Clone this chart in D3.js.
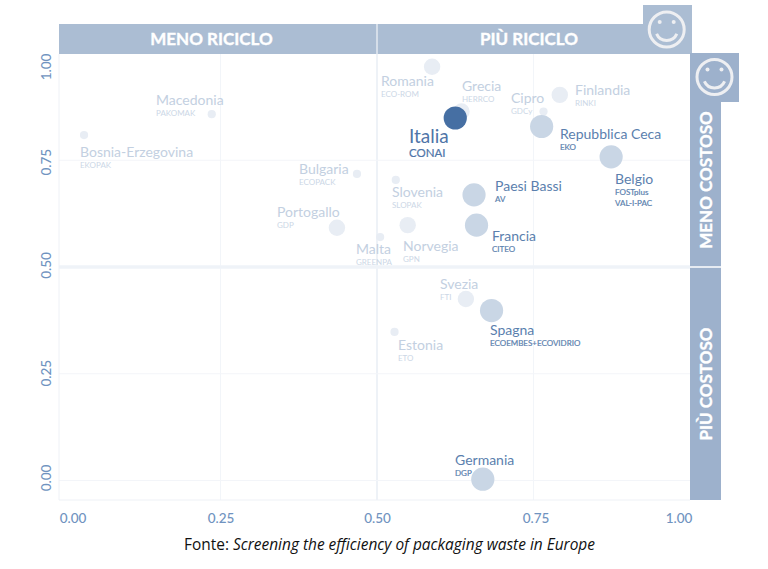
<!DOCTYPE html>
<html>
<head>
    <meta charset="utf-8">
    <title>Riciclo e costo</title>
    <script src="https://cdn.jsdelivr.net/npm/d3@7"></script>
    <style type="text/css">
        html, body { margin: 0; padding: 0; background: #fff; }
        svg { display: block; }
        text { font-family: Lato, "Noto Sans", sans-serif; }
    </style>
</head>
<body>
<script type="text/javascript">
    // dati
    var paesi = ["Bosnia-Erzegovina", "Macedonia", "Bulgaria", "Portogallo", "Malta", "Romania", "Grecia",
        "Cipro", "Finlandia", "Slovenia", "Norvegia", "Svezia", "Estonia",
        "Repubblica Ceca", "Belgio", "Paesi Bassi", "Francia", "Spagna", "Germania", "Italia"];
    var consorzi = ["EKOPAK", "PAKOMAK", "ECOPACK", "GDP", "GREENPA", "ECO-ROM", "HERRCO",
        "GDCy", "RINKI", "SLOPAK", "GPN", "FTI", "ETO",
        "EKO", "FOSTplus\nVAL-I-PAC", "AV", "CITEO", "ECOEMBES+ECOVIDRIO", "DGP", "CONAI"];
    var riciclo = [0.032, 0.236, 0.468, 0.436, 0.505, 0.588, 0.635,
        0.766, 0.792, 0.530, 0.549, 0.642, 0.528,
        0.763, 0.874, 0.655, 0.659, 0.683, 0.669, 0.625];
    var costo = [0.809, 0.858, 0.718, 0.592, 0.570, 0.969, 0.864,
        0.864, 0.903, 0.704, 0.598, 0.425, 0.348,
        0.829, 0.758, 0.669, 0.598, 0.398, 0.003, 0.849];
    var taglia = [1, 1, 1, 4, 1, 4, 4, 1, 4, 1, 4, 4, 1, 8, 8, 8, 8, 8, 8, 8];
    var gruppo = ["altri", "altri", "altri", "altri", "altri", "altri", "altri",
        "altri", "altri", "altri", "altri", "altri", "altri",
        "evidenza", "evidenza", "evidenza", "evidenza", "evidenza", "evidenza", "italia"];
    var tickValori = [0, 0.25, 0.5, 0.75, 1];

    // posizione delle etichette in pixel: [x, linea base]
    var etichette = [[80, 157], [156, 105], [299, 174], [277, 217], [356, 254], [381, 86], [462, 91],
        [511, 103], [575, 95], [392, 197], [403, 251], [440, 289], [398, 350],
        [560, 139], [615, 184], [495, 191], [492, 241], [490, 335], [455, 465], [409, 143]];

    var colori = {
        altri: {bolla: "#e8edf4", nome: "#c3d0e1", sigla: "#ccd7e6"},
        evidenza: {bolla: "#c9d6e5", nome: "#5b7fae", sigla: "#5b7fae"},
        italia: {bolla: "#466fa3", nome: "#4f75a8", sigla: "#4f75a8"}
    };

    var width = 768, height = 569;
    var svg = d3.select("body").append("svg").attr("width", width).attr("height", height);

    var x = d3.scaleLinear().domain([0, 1]).range([64, 690]);
    var y = d3.scaleLinear().domain([0, 1]).range([480.5, 53.5]);
    var r = d3.scaleSqrt().domain([0, 8]).range([0, 11.6]);

    // griglia
    var griglia = svg.append("g");
    griglia.selectAll(".gv").data(tickValori.slice(1, 4)).enter().append("line")
        .attr("x1", function(d) { return x(d); }).attr("x2", function(d) { return x(d); })
        .attr("y1", 54).attr("y2", 500)
        .attr("stroke", function(d) { return d === 0.5 ? "#eef2f7" : "#f2f5f9"; })
        .attr("stroke-width", function(d) { return d === 0.5 ? 2 : 1; });
    griglia.selectAll(".gh").data(tickValori.slice(0, 4)).enter().append("line")
        .attr("x1", 59).attr("x2", 690)
        .attr("y1", function(d) { return y(d); }).attr("y2", function(d) { return y(d); })
        .attr("stroke", function(d) { return d === 0.5 ? "#eff3f8" : "#f3f5f9"; })
        .attr("stroke-width", function(d) { return d === 0.5 ? 3.5 : 1; });
    griglia.append("line").attr("x1", 59).attr("x2", 59).attr("y1", 54).attr("y2", 500)
        .attr("stroke", "#eef1f6");
    griglia.append("line").attr("x1", 59).attr("x2", 690).attr("y1", 500).attr("y2", 500)
        .attr("stroke", "#eef1f6");

    // assi
    var fmt = d3.format(".2f");
    var assex = svg.append("g").attr("transform", "translate(0,500)")
        .call(d3.axisBottom(x).tickValues(tickValori).tickFormat(fmt).tickSize(0));
    var assey = svg.append("g").attr("transform", "translate(59,0)")
        .call(d3.axisLeft(y).tickValues(tickValori).tickFormat(fmt).tickSize(0));
    assex.select(".domain").remove();
    assey.select(".domain").remove();
    assex.selectAll("text")
        .attr("font-size", 13.5).attr("font-weight", 500).attr("fill", "#7093c0")
        .attr("dy", 0).attr("y", 22.5)
        .attr("dx", function(d) { return d === 0 ? 8.5 : d === 1 ? -11.5 : d === 0.75 ? 2 : 0; });
    assey.selectAll("text")
        .attr("font-size", 13.5).attr("font-weight", 500).attr("fill", "#7093c0")
        .attr("text-anchor", "middle").attr("dy", 0).attr("x", 0).attr("y", 0)
        .attr("transform", function(d) {
            var nudge = d === 1 ? 13 : d === 0 ? -3 : d === 0.5 ? -2 : d === 0.75 ? 1.5 : -1;
            return "translate(-8," + nudge + ") rotate(-90)";
        });

    // fasce
    var fasce = svg.append("g");
    fasce.append("rect").attr("x", 59).attr("y", 24).attr("width", 633).attr("height", 30).attr("fill", "#abbdd3");
    fasce.append("rect").attr("x", 643).attr("y", 5).attr("width", 49).attr("height", 49).attr("fill", "#abbdd3");
    fasce.append("rect").attr("x", 690).attr("y", 53).attr("width", 31).attr("height", 447).attr("fill", "#9db1cc");
    fasce.append("rect").attr("x", 690).attr("y", 53).attr("width", 49).attr("height", 49).attr("fill", "#9db1cc");
    fasce.append("line").attr("x1", x(0.5)).attr("x2", x(0.5)).attr("y1", 24).attr("y2", 54)
        .attr("stroke", "#fff").attr("stroke-width", 1);
    fasce.append("line").attr("x1", 690).attr("x2", 721).attr("y1", y(0.5)).attr("y2", y(0.5))
        .attr("stroke", "#fff").attr("stroke-width", 1.5);

    function titolo(testo, tx, ty, ruota) {
        fasce.append("text").text(testo)
            .attr("transform", "translate(" + tx + "," + ty + ")" + (ruota ? " rotate(-90)" : ""))
            .attr("text-anchor", "middle").attr("font-size", 17).attr("font-weight", 700)
            .attr("fill", "#fff").attr("stroke", "#fff").attr("stroke-width", 0.35);
    }
    titolo("MENO RICICLO", 211.5, 44.5, false);
    titolo("PIÙ RICICLO", 529, 44.5, false);
    titolo("MENO COSTOSO", 712, 180, true);
    titolo("PIÙ COSTOSO", 712, 384, true);

    function smile(cx, cy) {
        var g = svg.append("g").attr("transform", "translate(" + cx + "," + cy + ")")
            .attr("fill", "none").attr("stroke", "#eeeff2").attr("stroke-width", 3)
            .attr("stroke-linecap", "round");
        g.append("circle").attr("r", 17.5);
        g.append("circle").attr("cx", -7).attr("cy", -7.5).attr("r", 2).attr("fill", "#eeeff2").attr("stroke", "none");
        g.append("circle").attr("cx", 7).attr("cy", -7.5).attr("r", 2).attr("fill", "#eeeff2").attr("stroke", "none");
        g.append("path").attr("d", d3.arc()({innerRadius: 11, outerRadius: 11, startAngle: Math.PI * 0.63, endAngle: Math.PI * 1.37}));
    }
    smile(666.7, 29.5);
    smile(714.5, 77);

    // bolle ed etichette
    var righe = paesi.map(function(p, i) {
        return {nome: p, sigla: consorzi[i], x: riciclo[i], y: costo[i], taglia: taglia[i], gruppo: gruppo[i], at: etichette[i]};
    });

    svg.append("g").selectAll("circle").data(righe).enter().append("circle")
        .attr("cx", function(d) { return x(d.x); })
        .attr("cy", function(d) { return y(d.y); })
        .attr("r", function(d) { return r(d.taglia); })
        .attr("fill", function(d) { return colori[d.gruppo].bolla; });

    var lab = svg.append("g").selectAll("g").data(righe).enter().append("g")
        .attr("transform", function(d) { return "translate(" + d.at[0] + "," + d.at[1] + ")"; });
    lab.append("text").text(function(d) { return d.nome; })
        .attr("font-size", function(d) { return d.gruppo === "italia" ? 19 : 14; })
        .attr("fill", function(d) { return colori[d.gruppo].nome; });
    lab.each(function(d) {
        var grande = d.gruppo === "italia";
        d3.select(this).selectAll(".sigla").data(d.sigla.split("\n")).enter().append("text")
            .attr("class", "sigla").text(function(s) { return s; })
            .attr("y", function(s, i) { return (grande ? 14 : 11) + i * 11.2; })
            .attr("font-size", grande ? 11.5 : 8)
            .attr("stroke", d.gruppo === "altri" ? "none" : colori[d.gruppo].sigla)
            .attr("stroke-width", 0.2)
            .attr("fill", colori[d.gruppo].sigla);
    });

    // fonte
    var fonte = svg.append("text").attr("x", 184).attr("y", 550)
        .attr("font-size", 15.45).attr("fill", "#111")
        .style("font-family", "'Open Sans', sans-serif");
    fonte.append("tspan").text("Fonte: ");
    fonte.append("tspan").attr("font-style", "italic").text("Screening the efficiency of packaging waste in Europe");
</script>
</body>
</html>
